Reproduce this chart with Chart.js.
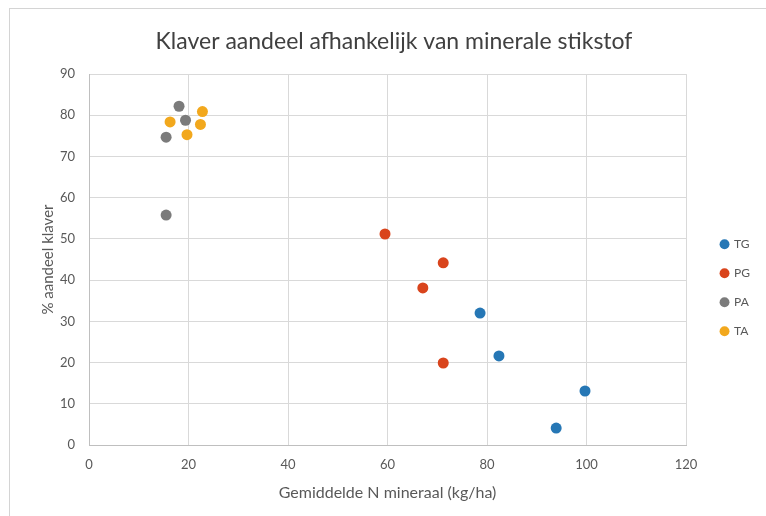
<!DOCTYPE html>
<html>
<head>
<meta charset="utf-8">
<script src="https://cdn.jsdelivr.net/npm/chart.js@4/dist/chart.umd.min.js"></script>
<style>
  html, body { margin: 0; padding: 0; background: #fff; }
  #wrap { position: relative; width: 766px; height: 516px; overflow: hidden; background: #fff; }
  #frame { position: absolute; left: 9px; top: 8px; width: 800px; height: 600px; border: 1px solid #d4d4d4; box-sizing: border-box; }
  canvas { position: absolute; left: 0; top: 0; }
</style>
</head>
<body>
<div id="wrap">
  <div id="frame"></div>
  <canvas id="c" width="766" height="516"></canvas>
</div>
<script>
const seriesNames = ["TG", "PG", "PA", "TA"];
const seriesColors = ["#2677B5", "#D9441C", "#7B7B7B", "#F2A81D"];

const tgX = [78.6, 82.4, 99.7, 93.9];
const tgY = [32.0, 21.6, 13.1, 4.1];

const pgX = [59.5, 71.2, 67.1, 71.2];
const pgY = [51.2, 44.2, 38.1, 19.9];

const paX = [18.1, 19.4, 15.5, 15.5];
const paY = [82.2, 78.8, 74.7, 55.8];

const taX = [22.8, 16.3, 22.4, 19.7];
const taY = [80.9, 78.4, 77.8, 75.3];

const titleText = "Klaver aandeel afhankelijk van minerale stikstof";
const xTitle = "Gemiddelde N mineraal (kg/ha)";
const yTitle = "% aandeel klaver";

function pts(xs, ys) { return xs.map((x, i) => ({ x: x, y: ys[i] })); }

const allX = [tgX, pgX, paX, taX];
const allY = [tgY, pgY, paY, taY];

const datasets = seriesNames.map((n, i) => ({
  label: n,
  data: pts(allX[i], allY[i]),
  backgroundColor: seriesColors[i],
  borderColor: seriesColors[i],
  pointRadius: 5.5,
  pointHoverRadius: 5.5,
  pointBorderWidth: 0
}));

const FONT = "Lato, 'Open Sans', sans-serif";

new Chart(document.getElementById('c'), {
  type: 'scatter',
  data: { datasets: datasets },
  options: {
    responsive: false,
    animation: false,
    layout: { padding: { left: 28, right: 6, top: 0, bottom: 0 } },
    plugins: {
      title: {
        display: true,
        text: titleText,
        color: '#404040',
        font: { family: FONT, size: 23, weight: 'normal' },
        padding: { top: 28, bottom: 18.5 }
      },
      legend: {
        position: 'right',
        align: 'center',
        title: { display: true, text: ' ', font: { size: 12 }, padding: { top: 0, bottom: 45 } },
        labels: {
          usePointStyle: true,
          pointStyle: 'circle',
          boxWidth: 7,
          boxHeight: 7,
          padding: 17,
          color: '#595959',
          font: { family: FONT, size: 12 }
        }
      },
      tooltip: { enabled: false }
    },
    scales: {
      x: {
        type: 'linear',
        min: 0, max: 120,
        afterFit: s => { s.height = 71; },
        ticks: { stepSize: 20, color: '#595959', font: { family: FONT, size: 13 }, padding: 12 },
        grid: { color: '#d9d9d9', drawTicks: false },
        border: { color: '#bfbfbf' },
        title: { display: true, text: xTitle, color: '#595959', font: { family: FONT, size: 16 }, padding: { top: 4, bottom: 14 } }
      },
      y: {
        type: 'linear',
        min: 0, max: 90,
        afterFit: s => { s.width = 61; },
        ticks: { stepSize: 10, color: '#595959', font: { family: FONT, size: 13 }, padding: 14 },
        grid: { color: '#d9d9d9', drawTicks: false },
        border: { color: '#bfbfbf' },
        title: { display: true, text: yTitle, color: '#595959', font: { family: FONT, size: 15 }, padding: { top: 11, bottom: 4 } }
      },
      gap: {
        type: 'linear',
        axis: 'y',
        position: 'right',
        display: true,
        afterFit: s => { s.width = 18; },
        ticks: { display: false },
        grid: { display: false, drawTicks: false },
        border: { display: false }
      }
    }
  }
});
</script>
</body>
</html>
